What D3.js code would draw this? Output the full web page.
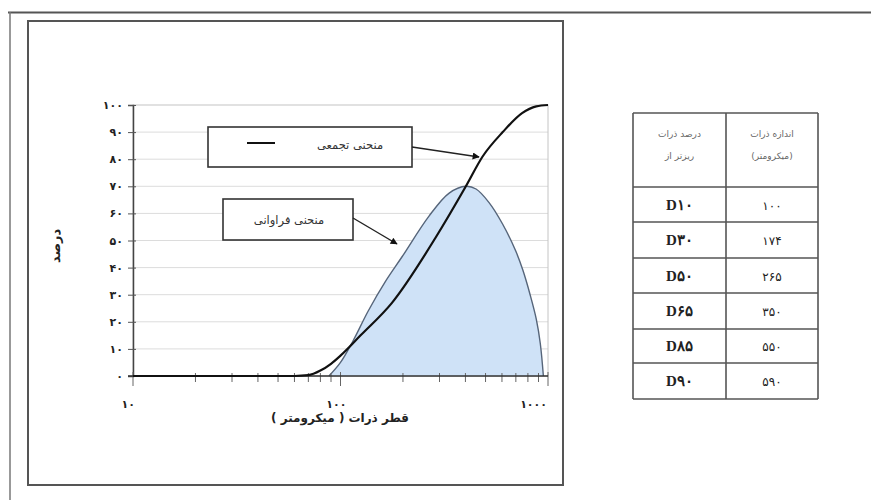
<!DOCTYPE html>
<html>
<head>
<meta charset="utf-8">
<script src="https://cdn.jsdelivr.net/npm/d3@7/dist/d3.min.js"></script>
<style>
  html, body { margin: 0; padding: 0; background: #fff; }
  svg { display: block; }
</style>
</head>
<body>
<svg id="chart" width="871" height="500" font-family="'DejaVu Sans', sans-serif"></svg>
<script>
// Particle size (µm) and cumulative percent finer
const cumSizes = [10, 60, 70, 80, 90, 100, 125, 177, 287, 402, 484, 605, 750, 878, 1000];
const cumValues = [0, 0, 0.3, 2, 4.5, 7.5, 15, 27, 51, 70, 81, 90, 97, 99.5, 100];

// Frequency curve (percent) against particle size (µm)
const freqSizes = [88, 100, 115, 136, 165, 198, 267, 334, 402, 450, 520, 605, 700, 757, 820, 878, 918, 950];
const freqValues = [0, 5, 13, 24, 35, 44, 59, 67.5, 70, 69, 64, 56, 46, 39, 30, 21, 12, 0];

// Axis ticks
const yTickValues = [0, 10, 20, 30, 40, 50, 60, 70, 80, 90, 100];
const yTickLabels = ["۰", "۱۰", "۲۰", "۳۰", "۴۰", "۵۰", "۶۰", "۷۰", "۸۰", "۹۰", "۱۰۰"];
const xTickValues = [10, 100, 1000];
const xTickLabels = ["۱۰", "۱۰۰", "۱۰۰۰"];

// Summary table
const tableHeaderLeft = ["درصد ذرات", "ریزتر از"];
const tableHeaderRight = ["اندازه ذرات", "(میکرومتر)"];
const tableD = ["D۱۰", "D۳۰", "D۵۰", "D۶۵", "D۸۵", "D۹۰"];
const tableSize = ["۱۰۰", "۱۷۴", "۲۶۵", "۳۵۰", "۵۵۰", "۵۹۰"];

const svg = d3.select("#chart");

// page frame and chart frame
svg.append("line").attr("x1", 8).attr("x2", 871).attr("y1", 12.5).attr("y2", 12.5)
  .attr("stroke", "#555").attr("stroke-width", 2);
svg.append("line").attr("x1", 10).attr("x2", 10).attr("y1", 12).attr("y2", 500)
  .attr("stroke", "#777").attr("stroke-width", 1.5);
svg.append("rect").attr("x", 28).attr("y", 21).attr("width", 535).attr("height", 464)
  .attr("fill", "#fff").attr("stroke", "#555").attr("stroke-width", 2);

const x = d3.scaleLog().domain([10, 1000]).range([133, 548]);
const y = d3.scaleLinear().domain([0, 100]).range([376, 105]);

// grid
svg.append("g").selectAll("line").data(yTickValues.filter(v => v > 0 && v < 100)).join("line")
  .attr("x1", 133).attr("x2", 548).attr("y1", d => y(d)).attr("y2", d => y(d))
  .attr("stroke", "#dcdcdc").attr("stroke-width", 1);
svg.append("rect").attr("x", 133).attr("y", y(100)).attr("width", 548 - 133).attr("height", y(0) - y(100))
  .attr("fill", "none").attr("stroke", "#c4c4c4").attr("stroke-width", 1);

// frequency area
const freqPts = freqSizes.map((s, i) => [s, freqValues[i]]);
const area = d3.area().x(d => x(d[0])).y0(y(0)).y1(d => y(d[1])).curve(d3.curveCatmullRom.alpha(0.5));
const freqLine = d3.line().x(d => x(d[0])).y(d => y(d[1])).curve(d3.curveCatmullRom.alpha(0.5));
svg.append("path").datum(freqPts).attr("d", area).attr("fill", "#cfe2f7");
svg.append("path").datum(freqPts).attr("d", freqLine).attr("fill", "none")
  .attr("stroke", "#56657a").attr("stroke-width", 1.4);

// y axis
const yAxis = d3.axisLeft(y).tickValues(yTickValues).tickSize(5)
  .tickFormat((d, i) => yTickLabels[i]);
const gy = svg.append("g").attr("transform", "translate(133,0)").call(yAxis);
gy.attr("font-family", null);
gy.select(".domain").attr("stroke", "#444").attr("stroke-width", 1.5);
gy.selectAll(".tick line").attr("stroke", "#555").attr("x2", -5).attr("x1", 3);
gy.selectAll(".tick text").attr("x", -10).attr("font-size", 11).attr("font-weight", "bold").attr("fill", "#222");

// x axis with log minor ticks
const minor = [];
[10, 100].forEach(b => { for (let k = 2; k <= 9; k++) minor.push(b * k); });
svg.append("g").selectAll("line").data(minor).join("line")
  .attr("x1", d => x(d)).attr("x2", d => x(d)).attr("y1", 373).attr("y2", 382)
  .attr("stroke", "#666").attr("stroke-width", 1);
svg.append("g").selectAll("line").data(xTickValues).join("line")
  .attr("x1", d => x(d)).attr("x2", d => x(d)).attr("y1", 372).attr("y2", 386)
  .attr("stroke", "#666").attr("stroke-width", 1);
svg.append("line").attr("x1", 128).attr("x2", 548).attr("y1", y(0)).attr("y2", y(0))
  .attr("stroke", "#333").attr("stroke-width", 1.5);
svg.append("g").selectAll("text").data(xTickValues).join("text")
  .attr("x", d => x(d) - (d === 1000 ? 1 : d === 100 ? -6 : -2)).attr("y", 408)
  .attr("text-anchor", "end").attr("font-size", 11).attr("font-weight", "bold").attr("fill", "#222")
  .text((d, i) => xTickLabels[i]);

// cumulative curve
const cumPts = cumSizes.map((s, i) => [s, cumValues[i]]);
const cumLine = d3.line().x(d => x(d[0])).y(d => y(d[1])).curve(d3.curveMonotoneX);
svg.append("path").datum(cumPts).attr("d", cumLine).attr("fill", "none")
  .attr("stroke", "#111").attr("stroke-width", 2.2);

// axis titles
svg.append("text").attr("transform", "translate(60,246) rotate(-90)")
  .attr("text-anchor", "middle").attr("font-size", 13).attr("font-weight", "bold").attr("fill", "#222")
  .text("درصد");
svg.append("text").attr("x", 340).attr("y", 422).attr("text-anchor", "middle").attr("direction", "rtl")
  .attr("font-size", 12).attr("font-weight", "bold").attr("fill", "#222")
  .text("قطر ذرات ( میکرومتر )");

// callouts
const defs = svg.append("defs");
defs.append("marker").attr("id", "arrow").attr("viewBox", "0 0 10 10").attr("refX", 9).attr("refY", 5)
  .attr("markerWidth", 9).attr("markerHeight", 7).attr("markerUnits", "userSpaceOnUse").attr("orient", "auto")
  .append("path").attr("d", "M0,0 L10,5 L0,10 Z").attr("fill", "#111");

svg.append("rect").attr("x", 208).attr("y", 127).attr("width", 204).attr("height", 40)
  .attr("fill", "#fff").attr("stroke", "#333").attr("stroke-width", 1.6);
svg.append("line").attr("x1", 247).attr("x2", 275).attr("y1", 143).attr("y2", 143)
  .attr("stroke", "#111").attr("stroke-width", 2);
svg.append("text").attr("x", 350).attr("y", 149).attr("text-anchor", "middle").attr("font-size", 11.5)
  .attr("fill", "#333").text("منحنی تجمعی");
svg.append("line").attr("x1", 412).attr("y1", 147).attr("x2", 479).attr("y2", 157)
  .attr("stroke", "#222").attr("stroke-width", 1.4).attr("marker-end", "url(#arrow)");

svg.append("rect").attr("x", 223).attr("y", 199).attr("width", 130).attr("height", 41)
  .attr("fill", "#fff").attr("stroke", "#333").attr("stroke-width", 1.6);
svg.append("text").attr("x", 289).attr("y", 224).attr("text-anchor", "middle").attr("font-size", 11.5)
  .attr("fill", "#333").text("منحنی فراوانی");
svg.append("line").attr("x1", 353).attr("y1", 218).attr("x2", 397).attr("y2", 244)
  .attr("stroke", "#222").attr("stroke-width", 1.4).attr("marker-end", "url(#arrow)");

// table
const tx = [633, 726, 818];
const rowY = [113, 187, 222, 258, 293, 329, 363, 399];
const tg = svg.append("g");
tg.selectAll("line.h").data(rowY).join("line").attr("class", "h")
  .attr("x1", tx[0]).attr("x2", tx[2]).attr("y1", d => d).attr("y2", d => d)
  .attr("stroke", "#555").attr("stroke-width", 1.6);
tg.selectAll("line.v").data(tx).join("line").attr("class", "v")
  .attr("x1", d => d).attr("x2", d => d).attr("y1", rowY[0]).attr("y2", rowY[rowY.length - 1])
  .attr("stroke", "#555").attr("stroke-width", 1.6);
tableHeaderLeft.forEach((t, i) => tg.append("text").attr("x", (tx[0] + tx[1]) / 2).attr("y", 137 + i * 22)
  .attr("text-anchor", "middle").attr("font-size", 9).attr("fill", "#666").text(t));
tableHeaderRight.forEach((t, i) => tg.append("text").attr("x", (tx[1] + tx[2]) / 2).attr("y", 137 + i * 22)
  .attr("text-anchor", "middle").attr("font-size", 9).attr("fill", "#666").text(t));
tableD.forEach((t, i) => {
  const cy = (rowY[i + 1] + rowY[i + 2]) / 2 + 5;
  tg.append("text").attr("x", (tx[0] + tx[1]) / 2).attr("y", cy).attr("text-anchor", "middle")
    .style("font-family", "'Liberation Serif', 'DejaVu Serif', serif").attr("font-size", 15)
    .attr("font-weight", "bold").attr("fill", "#222")
    .text(t);
  tg.append("text").attr("x", (tx[1] + tx[2]) / 2).attr("y", cy).attr("text-anchor", "middle")
    .attr("font-size", 12).attr("fill", "#222").text(tableSize[i]);
});
</script>
</body>
</html>
